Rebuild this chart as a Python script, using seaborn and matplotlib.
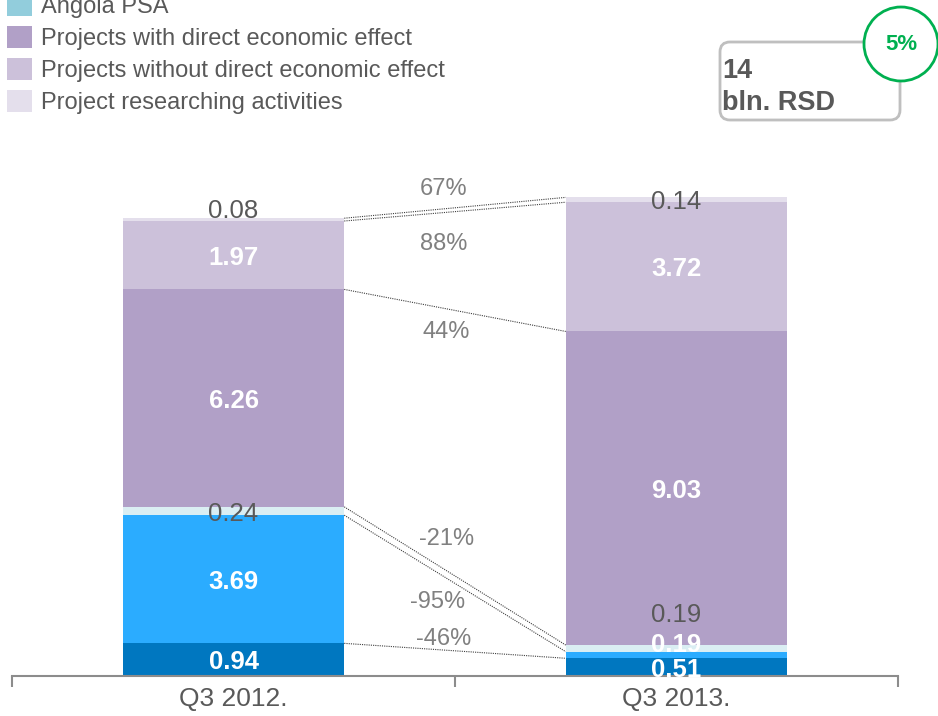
import numpy as np
import pandas as pd
import matplotlib
matplotlib.use("Agg")
import matplotlib.pyplot as plt
from matplotlib.patches import Patch, FancyBboxPatch, Circle
import seaborn as sns

# ── Data ──────────────────────────────────────────────────────────────────────
periods   = ['Q3 2012.', 'Q3 2013.']
segments  = ['seg_dark', 'seg_bright', 'seg_pale', 'direct', 'indirect', 'research']
vals_2012 = [0.94, 3.69, 0.24, 6.26, 1.97, 0.08]
vals_2013 = [0.51, 0.19, 0.19, 9.03, 3.72, 0.14]
changes   = ['-46%', '-95%', '-21%', '44%', '88%', '67%']

legend_labels = ['Angola PSA',
                 'Projects with direct economic effect',
                 'Projects without direct economic effect',
                 'Project researching activities']
legend_colors = ['#92CDDC', '#B1A0C7', '#CCC1DA', '#E4DFEC']

total_text  = '14\nbln. RSD'
growth_text = '5%'

# ── Styling ───────────────────────────────────────────────────────────────────
seg_colors = ['#0077C0', '#2BACFF', '#DAEEF3', '#B1A0C7', '#CCC1DA', '#E4DFEC']
# label style per segment per period: (color, bold, y offset in data units)
label_style = {
    0: [('white', True, 0), ('white', True, 0), ('#595959', False, 0),
        ('white', True, 0), ('white', True, 0), ('#595959', False, 0.32)],
    1: [('white', True, 0), ('white', True, 0.35), ('#595959', False, 1.04),
        ('white', True, 0), ('white', True, 0), ('#595959', False, 0)],
}
change_pos = [(0.475, 1.14), (0.46, 2.2), (0.48, 4.02),
              (0.48, 9.97), (0.475, 12.51), (0.475, 14.09)]

sns.set_theme(style='white')
plt.rcParams['font.family'] = ['Liberation Sans', 'DejaVu Sans']

df = pd.DataFrame({'period': np.repeat(periods, len(segments)),
                   'segment': segments * 2,
                   'value': vals_2012 + vals_2013})
df['bottom'] = df.groupby('period')['value'].cumsum() - df['value']
df['top'] = df['bottom'] + df['value']

fig = plt.figure(figsize=(9.38, 7.16), dpi=100)
ax = fig.add_axes([12 / 938, 40 / 716, 886 / 938, 521 / 716])

for seg, color in zip(segments, seg_colors):
    d = df[df['segment'] == seg]
    sns.barplot(data=d, x='period', y='value', order=periods, color=color,
                width=0.5, bottom=d['bottom'].values, linewidth=0,
                saturation=1, ax=ax, errorbar=None)

# value labels
for i, p in enumerate(periods):
    d = df[df['period'] == p].reset_index(drop=True)
    for j, row in d.iterrows():
        col, bold, off = label_style[i][j]
        ax.text(i, row['bottom'] + row['value'] / 2 + off, f"{row['value']:.2f}",
                ha='center', va='center_baseline', fontsize=18.5, color=col,
                fontweight='bold' if bold else 'normal', zorder=5)

# connector lines between segment tops
t12 = df[df['period'] == periods[0]]['top'].values
t13 = df[df['period'] == periods[1]]['top'].values
for a, b in zip(t12, t13):
    ax.plot([0.25, 0.75], [a, b], color='#404040', lw=0.8, ls=(0, (1, 1)), zorder=4)

for (x, y), txt in zip(change_pos, changes):
    ax.text(x, y, txt, ha='center', va='center_baseline', fontsize=17, color='#808080')

ax.set_xlim(-0.5, 1.5)
ax.set_ylim(0, 15)
ax.set_xlabel('')
ax.set_ylabel('')
ax.set_yticks([])
for s in ['top', 'right', 'left']:
    ax.spines[s].set_visible(False)
ax.spines['bottom'].set_color('#8C8C8C')
ax.spines['bottom'].set_linewidth(1.5)
ax.set_xticks([0, 1])
ax.set_xticklabels(periods, fontsize=19, color='#595959')
ax.set_xticks([-0.5, 0.5, 1.5], minor=True)
ax.tick_params(axis='x', which='major', length=0, pad=8)
ax.tick_params(axis='x', which='minor', length=8, width=1.5, color='#8C8C8C',
               direction='out', bottom=True)

# legend (top entry partly cut off by the figure edge, as in the source)
handles = [Patch(facecolor=c, edgecolor='none') for c in legend_colors]
fig.legend(handles, legend_labels, loc='upper left',
           bbox_to_anchor=(0.0, 1.0185), frameon=False, fontsize=17,
           labelcolor='#595959', handlelength=1.05, handleheight=1.05,
           handletextpad=0.4, labelspacing=0.34, borderaxespad=0, borderpad=0.3)

# total box and growth circle
box = FancyBboxPatch((7.20, 7.16 - 1.20), 1.80, 0.78,
                     boxstyle='round,pad=0,rounding_size=0.1',
                     transform=fig.dpi_scale_trans, facecolor='white',
                     edgecolor='#BFBFBF', lw=2)
fig.patches.append(box)
fig.text(7.225, 7.16 - 0.87, total_text, transform=fig.dpi_scale_trans,
         fontsize=19.5, fontweight='bold', color='#595959', va='center',
         ha='left', linespacing=1.3)
circ = Circle((9.01, 7.16 - 0.44), 0.37, transform=fig.dpi_scale_trans,
              facecolor='white', edgecolor='#00B050', lw=2, zorder=10)
fig.patches.append(circ)
fig.text(9.01, 7.16 - 0.44, growth_text, transform=fig.dpi_scale_trans,
         fontsize=16, fontweight='bold', color='#00B050', ha='center',
         va='center', zorder=11)

fig.savefig('out.png', dpi=100)
